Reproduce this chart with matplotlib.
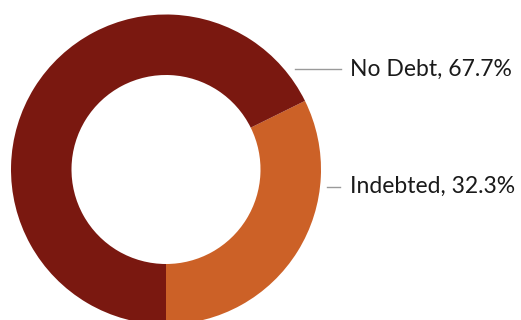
import matplotlib.pyplot as plt

plt.rcParams['font.family'] = ['Lato', 'DejaVu Sans']

labels = ['Indebted', 'No Debt']
shares = [32.3, 67.7]
colors = ['#CC6127', '#7A1810']

fig = plt.figure(figsize=(5.21, 3.2), dpi=100)
ax = fig.add_axes([0, 0, 1, 1])

# donut, clockwise from the bottom for Indebted
cx, cy, r = 166, 150.5, 155
ax.pie(shares, colors=colors, startangle=-90, counterclock=True,
       center=(cx, cy), radius=r, frame=True,
       wedgeprops=dict(width=r - 94.5, linewidth=0))
ax.set_xlim(0, 521)
ax.set_ylim(0, 320)
ax.set_aspect('equal')
ax.axis('off')

# labels with short leader lines
ax.plot([295, 341], [251, 251], color='#9a9a9a', lw=1)
ax.text(350, 251, f'{labels[1]}, {shares[1]}%', fontsize=16.5, va='center', ha='left', color='#1a1a1a')
ax.plot([327, 340], [133, 133], color='#9a9a9a', lw=1)
ax.text(350, 133.5, f'{labels[0]}, {shares[0]}%', fontsize=16.5, va='center', ha='left', color='#1a1a1a')

fig.savefig('out.png', dpi=100)
